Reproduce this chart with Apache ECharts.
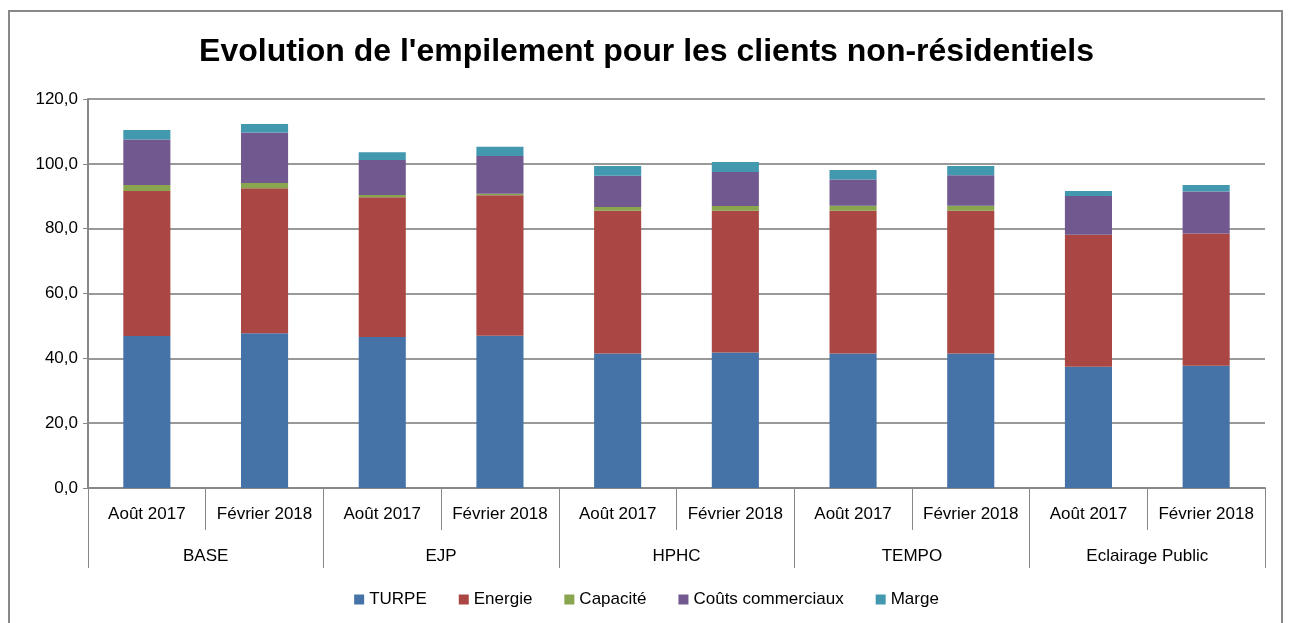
<!DOCTYPE html>
<html>
<head>
<meta charset="utf-8">
<script src="https://cdn.jsdelivr.net/npm/echarts@6/dist/echarts.min.js"></script>
<style>
  html, body { margin: 0; padding: 0; background: #fff; }
  #frame { position: absolute; left: 8px; top: 10px; width: 1275px; height: 620px; border: 2px solid #888; box-sizing: border-box; }
  #chart { position: absolute; left: 0; top: 0; width: 1293px; height: 623px; }
</style>
</head>
<body>
<div id="frame"></div>
<div id="chart"></div>
<script>
// Periods and offer groups
const periods = ["Août 2017", "Février 2018", "Août 2017", "Février 2018", "Août 2017", "Février 2018", "Août 2017", "Février 2018", "Août 2017", "Février 2018"];
const groups = ["BASE", "EJP", "HPHC", "TEMPO", "Eclairage Public"];

// Stack components
const turpe = [46.9, 47.7, 46.6, 47.0, 41.5, 41.8, 41.5, 41.5, 37.4, 37.7];
const energie = [44.7, 44.8, 43.1, 43.3, 44.0, 43.7, 44.0, 44.0, 40.7, 40.8];
const capacite = [1.9, 1.6, 0.7, 0.5, 1.2, 1.5, 1.6, 1.6, 0, 0];
const coutsCommerciaux = [14.0, 15.6, 10.8, 11.6, 9.6, 10.5, 8.1, 9.4, 12.0, 13.0];
const marge = [2.9, 2.6, 2.4, 2.9, 3.0, 3.1, 2.9, 2.8, 1.5, 2.0];

const seriesDefs = [
    { name: "TURPE", data: turpe, color: "#4572A7" },
    { name: "Energie", data: energie, color: "#AA4643" },
    { name: "Capacité", data: capacite, color: "#89A54E" },
    { name: "Coûts commerciaux", data: coutsCommerciaux, color: "#71588F" },
    { name: "Marge", data: marge, color: "#4198AF" }
];

const FONT = "Liberation Sans";
const chart = echarts.init(document.getElementById("chart"));
chart.setOption({
    animation: false,
    backgroundColor: "transparent",
    textStyle: { fontFamily: FONT },
    title: {
        text: "Evolution de l'empilement pour les clients non-résidentiels",
        left: "center",
        top: 31,
        textStyle: { fontFamily: FONT, fontSize: 32, fontWeight: "bold", color: "#000" }
    },
    legend: {
        bottom: 10,
        left: "center",
        itemWidth: 10,
        itemHeight: 10,
        itemGap: 32,
        icon: "rect",
        textStyle: { fontSize: 17, color: "#000" },
        data: seriesDefs.map(s => s.name)
    },
    grid: { left: 88, right: 28, top: 99, bottom: 135 },
    xAxis: [
        {
            type: "category",
            data: periods,
            axisLine: { lineStyle: { color: "#888", width: 2 } },
            axisTick: { show: true, length: 42, lineStyle: { color: "#888", width: 1 } },
            axisLabel: { margin: 18, fontSize: 17, color: "#000", interval: 0 }
        },
        {
            type: "category",
            data: groups,
            position: "bottom",
            axisLine: { show: false },
            axisTick: { show: true, length: 80, lineStyle: { color: "#888", width: 1 } },
            axisLabel: { margin: 60, fontSize: 17, color: "#000", interval: 0 }
        }
    ],
    yAxis: {
        type: "value",
        min: 0,
        max: 120,
        interval: 20,
        axisLine: { show: true, lineStyle: { color: "#888", width: 2 } },
        axisTick: { show: true, length: 5, lineStyle: { color: "#888" } },
        splitLine: { lineStyle: { color: "#999", width: 2 } },
        axisLabel: { fontSize: 17, color: "#000", margin: 10, formatter: v => v.toFixed(1).replace(".", ",") }
    },
    series: seriesDefs.map(s => ({
        name: s.name,
        type: "bar",
        stack: "total",
        xAxisIndex: 0,
        barWidth: "40%",
        data: s.data,
        itemStyle: { color: s.color }
    }))
});
</script>
</body>
</html>
